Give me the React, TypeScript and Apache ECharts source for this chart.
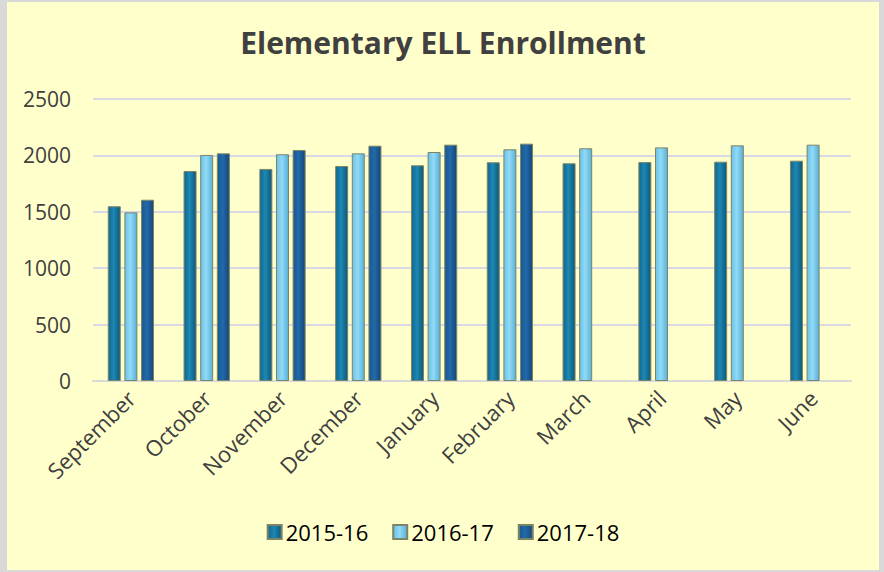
import React, { useEffect, useRef } from "react";
import * as echarts from "echarts";

const months = ["September", "October", "November", "December", "January", "February", "March", "April", "May", "June"];
const y2015 = [1549, 1862, 1880, 1906, 1912, 1939, 1930, 1941, 1944, 1953];
const y2016 = [1495, 2004, 2010, 2018, 2030, 2054, 2063, 2071, 2089, 2095];
const y2017 = [1607, 2018, 2048, 2086, 2095, 2104, null, null, null, null];
const seriesNames = ["2015-16", "2016-17", "2017-18"];
const yTicks = [0, 500, 1000, 1500, 2000, 2500];

const FONT = "'Open Sans', sans-serif";

function grad(a: string, b: string, c: string) {
  return new echarts.graphic.LinearGradient(0, 0, 1, 0, [
    { offset: 0, color: a },
    { offset: 0.45, color: b },
    { offset: 1, color: c },
  ]);
}

export default function App() {
  const ref = useRef<HTMLDivElement>(null);
  useEffect(() => {
    if (!ref.current) return;
    const chart = echarts.init(ref.current, null, { renderer: "svg" });
    const colors = [
      grad("#11668c", "#1c88b4", "#0e5878"),
      grad("#68c2e8", "#92daf6", "#56b0d8"),
      grad("#19578e", "#226aaa", "#154677"),
    ];
    const datas = [y2015, y2016, y2017];
    chart.setOption({
      animation: false,
      backgroundColor: "#FFFFCC",
      textStyle: { fontFamily: FONT },
      title: {
        text: "Elementary ELL Enrollment",
        left: "center",
        top: 20,
        textStyle: { fontFamily: FONT, fontSize: 30, fontWeight: "bold", color: "#404040" },
      },
      legend: {
        bottom: 22,
        left: "center",
        itemWidth: 14,
        itemHeight: 14,
        itemGap: 24,
        icon: "rect",
        textStyle: { fontFamily: FONT, fontSize: 22, color: "#000000", padding: [0, 0, 0, -1] },
        data: seriesNames,
      },
      grid: { left: 86, right: 28, top: 97, bottom: 189 },
      xAxis: {
        type: "category",
        data: months,
        axisLine: { lineStyle: { color: "#d9d9d9", width: 2 } },
        axisTick: { show: false },
        axisLabel: { rotate: 45, fontFamily: FONT, fontSize: 22, color: "#404040", margin: 13, interval: 0 },
      },
      yAxis: {
        type: "value",
        min: yTicks[0],
        max: yTicks[yTicks.length - 1],
        interval: 500,
        axisLine: { show: false },
        axisTick: { show: false },
        axisLabel: {
          fontFamily: FONT,
          fontSize: 21,
          color: "#404040",
          margin: 22,
          formatter: (v: number) => String(v),
        },
        splitLine: { lineStyle: { color: "#d9d9e6", width: 2 } },
      },
      series: seriesNames.map((name, i) => ({
        name,
        type: "bar",
        data: datas[i],
        barWidth: 13,
        barGap: "28%",
        itemStyle: { color: colors[i], borderColor: "#7d8466", borderWidth: 1 },
      })),
    });
    return () => chart.dispose();
  }, []);
  return (
    <div style={{ position: "fixed", left: 0, top: 0, width: 884, height: 572, background: "#d9d9d9" }}>
      <div style={{ position: "absolute", left: 7, top: 2, width: 872, height: 568 }}>
        <div ref={ref} style={{ width: 872, height: 568 }} />
      </div>
    </div>
  );
}
